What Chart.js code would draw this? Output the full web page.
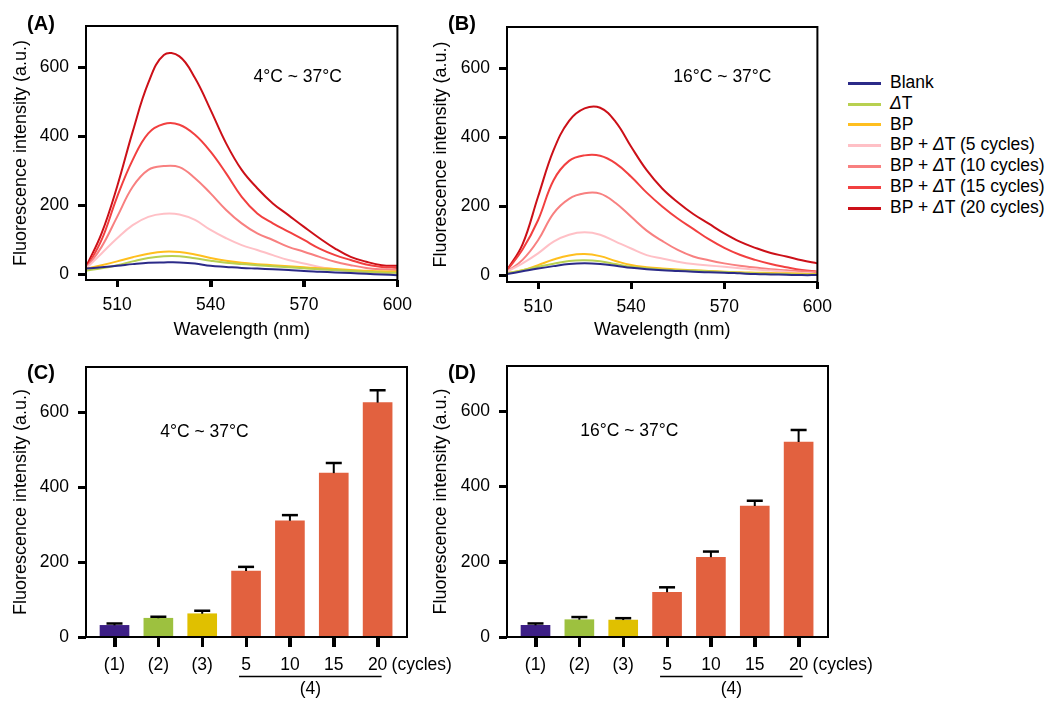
<!DOCTYPE html>
<html>
<head>
<meta charset="utf-8">
<script src="https://cdn.jsdelivr.net/npm/chart.js@4.4.1/dist/chart.umd.min.js"></script>
<style>
  body { margin: 0; background: #fff; width: 1051px; height: 702px; position: relative; overflow: hidden;
         font-family: "Liberation Sans", Arial, Helvetica, sans-serif; color: #000; }
  canvas { position: absolute; }
  #legend { position: absolute; left: 848px; top: 72px; font-size: 17.5px; }
  #legend .row { height: 20.8px; line-height: 20.8px; white-space: nowrap; }
  #legend .swatch { display: inline-block; width: 33px; height: 3px; vertical-align: middle; margin-right: 9px; }
</style>
</head>
<body>
<canvas id="chartA" width="420" height="345" style="left:0;top:0"></canvas>
<canvas id="chartB" width="420" height="345" style="left:420px;top:0"></canvas>
<canvas id="chartC" width="470" height="357" style="left:0;top:345px"></canvas>
<canvas id="chartD" width="480" height="357" style="left:420px;top:345px"></canvas>
<div id="legend"></div>
<script>
// ---- data ----------------------------------------------------------------
const wavelengths = [500, 505, 510, 515, 520, 525, 530, 535, 540, 545, 550,
                     555, 560, 565, 570, 575, 580, 585, 590, 595, 600];
const xTicksNm = [510, 540, 570, 600];
const yTicks = [0, 200, 400, 600];

const seriesNames = ['Blank', 'ΔT', 'BP', 'BP + ΔT (5 cycles)', 'BP + ΔT (10 cycles)',
                     'BP + ΔT (15 cycles)', 'BP + ΔT (20 cycles)'];
const seriesColors = ['#2b2a88', '#b8d050', '#ffbf1f', '#ffc0c6', '#f88080', '#f24040', '#cc1018'];

// (A) 4°C ~ 37°C spectra
const blankA = [17, 21, 25, 30, 34, 35, 35, 32, 25, 22, 19, 17, 15, 13, 10, 8, 6, 4, 2, 0, -2];
const dtA    = [11, 18, 27, 38, 48, 53, 53, 47, 40, 34, 30, 27, 24, 21, 18, 15, 13, 10, 8, 6, 5];
const bpA    = [17, 27, 38, 50, 60, 66, 65, 58, 48, 40, 34, 30, 27, 24, 21, 18, 16, 13, 11, 9, 8];
const c5A    = [17, 61, 105, 143, 167, 176, 174, 158, 129, 105, 85, 71, 56, 42, 32, 22, 15, 9, 6, 4, 3];
const c10A   = [17, 80, 167, 254, 303, 314, 311, 279, 235, 187, 148, 119, 100, 80, 66, 51, 37, 27, 19, 15, 13];
const c15A   = [17, 100, 225, 332, 409, 436, 434, 405, 356, 293, 225, 177, 148, 124, 100, 75, 56, 42, 29, 22, 19];
const c20A   = [22, 119, 255, 414, 555, 636, 632, 569, 477, 380, 303, 250, 206, 172, 138, 105, 75, 51, 37, 27, 25];

// (B) 16°C ~ 37°C spectra
const blankB = [4, 12, 20, 27, 33, 35, 33, 28, 22, 18, 15, 13, 11, 9, 8, 6, 4, 3, 2, 1, 1];
const dtB    = [6, 15, 25, 34, 42, 44, 41, 33, 25, 21, 17, 15, 14, 12, 10, 8, 6, 5, 4, 3, 3];
const bpB    = [6, 15, 30, 46, 58, 62, 56, 42, 30, 24, 20, 17, 15, 13, 11, 9, 8, 7, 6, 5, 4];
const c5B    = [11, 35, 64, 98, 118, 125, 118, 98, 78, 59, 49, 40, 33, 29, 25, 21, 17, 14, 11, 7, 4];
const c10B   = [11, 45, 102, 180, 222, 238, 237, 210, 170, 130, 100, 74, 55, 44, 35, 28, 23, 18, 15, 12, 10];
const c15B   = [15, 75, 160, 276, 332, 348, 347, 325, 286, 240, 200, 165, 135, 105, 80, 60, 45, 33, 24, 16, 11];
const c20B   = [15, 90, 228, 363, 448, 484, 486, 445, 373, 305, 252, 212, 178, 150, 122, 98, 80, 65, 55, 44, 35];

// (C)/(D) bar summaries
const barLabels = ['(1)', '(2)', '(3)', '5', '10', '15', '20'];
const barColors = ['#3d1f86', '#9dc13f', '#e0c000', '#e2613f', '#e2613f', '#e2613f', '#e2613f'];
const barsC = [31, 50, 62, 176, 310, 437, 625];
const errC  = [5, 4, 8, 11, 15, 27, 33];
const barsD = [31, 46, 45, 119, 212, 348, 518];
const errD  = [5, 7, 5, 13, 15, 14, 32];

// ---- shared styling ------------------------------------------------------
const FAMILY = '"Liberation Sans", Arial, Helvetica, sans-serif';
const SIZE = 17.5;
Chart.defaults.font.family = FAMILY;
Chart.defaults.font.size = SIZE;
Chart.defaults.color = '#000';

const FONT = SIZE + 'px ' + FAMILY;

// black frame round the plot area plus outward tick marks
const framePlugin = {
  id: 'frame',
  afterDraw(chart) {
    const { left, top, right, bottom } = chart.chartArea;
    const ctx = chart.ctx;
    const xs = chart.scales.x, ys = chart.scales.y;
    ctx.save();
    ctx.strokeStyle = '#000';
    ctx.lineWidth = 2;
    ctx.strokeRect(left, top, right - left, bottom - top);
    const xLen = xs.options.grid.tickLength || 8, yLen = ys.options.grid.tickLength || 8;
    ctx.lineWidth = 3;
    ctx.beginPath();
    xs.ticks.forEach(t => {
      const px = Math.round(xs.getPixelForValue(t.value)) + 0.5;
      ctx.moveTo(px, bottom);
      ctx.lineTo(px, bottom + xLen);
    });
    ys.ticks.forEach(t => {
      const py = Math.round(ys.getPixelForValue(t.value)) + 0.5;
      ctx.moveTo(left - yLen, py);
      ctx.lineTo(left, py);
    });
    ctx.stroke();
    ctx.restore();
  }
};

// upper error bars for the bar panels
const errorBarPlugin = {
  id: 'errorBars',
  afterDatasetsDraw(chart) {
    const ctx = chart.ctx;
    const yScale = chart.scales.y;
    chart.data.datasets.forEach((ds, i) => {
      if (!ds.errors) return;
      chart.getDatasetMeta(i).data.forEach((bar, j) => {
        const yTop = yScale.getPixelForValue(ds.data[j].y + ds.errors[j]);
        ctx.save();
        ctx.strokeStyle = '#000';
        ctx.lineWidth = 2;
        ctx.beginPath();
        ctx.moveTo(bar.x, bar.y);
        ctx.lineTo(bar.x, yTop);
        ctx.stroke();
        ctx.lineWidth = 2.5;
        ctx.beginPath();
        ctx.moveTo(bar.x - 8, yTop);
        ctx.lineTo(bar.x + 8, yTop);
        ctx.stroke();
        ctx.restore();
      });
    });
  }
};

// panel letter, temperature note, and the "(4)" group marker under the bars
const panelTextPlugin = {
  id: 'panelText',
  afterDraw(chart, args, o) {
    const ctx = chart.ctx;
    const xs = chart.scales.x, ys = chart.scales.y;
    ctx.save();
    ctx.fillStyle = '#000';
    ctx.textBaseline = 'middle';
    ctx.textAlign = 'center';
    ctx.font = 'bold 20px ' + FAMILY;
    ctx.fillText(o.letter, o.letterX, o.letterY);
    ctx.font = FONT;
    ctx.fillText(o.cond, xs.getPixelForValue(o.condX), ys.getPixelForValue(o.condY));
    if (o.group) {
      const axisY = chart.chartArea.bottom;
      const x0 = xs.getPixelForValue(3) - 7;
      const x1 = xs.getPixelForValue(6) + 4;
      ctx.strokeStyle = '#000';
      ctx.lineWidth = 1.5;
      ctx.beginPath();
      ctx.moveTo(x0, axisY + 39.5);
      ctx.lineTo(x1, axisY + 39.5);
      ctx.stroke();
      ctx.fillText('(4)', (x0 + x1) / 2, axisY + 52);
      ctx.textAlign = 'left';
      ctx.fillText('(cycles)', xs.getPixelForValue(6) + 14, axisY + 28.5);
    }
    ctx.restore();
  }
};

function axisBase(tickLen, pad) {
  return {
    offset: false,
    border: { display: true, color: '#000', width: 2 },
    grid: { offset: false, drawOnChartArea: false, drawTicks: true, tickLength: tickLen, tickColor: '#000', tickWidth: 3 },
    ticks: { color: '#000', padding: pad, maxRotation: 0, autoSkip: false, font: { size: SIZE } }
  };
}

function yAxis(min, width) {
  return Object.assign(axisBase(8, 9), {
    min: min, max: 720,
    afterBuildTicks: s => { s.ticks = yTicks.map(v => ({ value: v })); },
    afterFit: s => { s.width = width; },
    title: { display: true, text: 'Fluorescence intensity (a.u.)', color: '#000',
             font: { size: 18 }, padding: { top: 10, bottom: 0 } }
  });
}

// ---- spectra -------------------------------------------------------------
function makeSpectrum(id, series, cfg) {
  const x = Object.assign(axisBase(7, 8), {
    type: 'linear', min: 500, max: 600,
    afterBuildTicks: s => { s.ticks = xTicksNm.map(v => ({ value: v })); },
    afterFit: s => { s.height = cfg.xHeight; },
    title: { display: true, text: 'Wavelength (nm)', color: '#000',
             font: { size: 18 }, padding: { top: 0, bottom: 4 } }
  });
  return new Chart(document.getElementById(id), {
    type: 'line',
    data: {
      datasets: series.map((vals, i) => ({
        label: seriesNames[i],
        data: wavelengths.map((w, j) => ({ x: w, y: vals[j] })),
        borderColor: seriesColors[i],
        borderWidth: 2,
        pointRadius: 0,
        tension: 0.4,
        fill: false
      }))
    },
    options: {
      responsive: false,
      animation: false,
      layout: { padding: cfg.padding },
      plugins: {
        legend: { display: false },
        tooltip: { enabled: false },
        panelText: cfg.text
      },
      scales: { x: x, y: yAxis(cfg.yMin, cfg.yWidth) }
    },
    plugins: [framePlugin, panelTextPlugin]
  });
}

makeSpectrum('chartA', [blankA, dtA, bpA, c5A, c10A, c15A, c20A], {
  padding: { top: 26, right: 17, left: 0, bottom: 0 }, yWidth: 86, xHeight: 65, yMin: -16,
  text: { letter: '(A)', letterX: 41, letterY: 24, cond: '4°C ~ 37°C', condX: 568, condY: 572 }
});
makeSpectrum('chartB', [blankB, dtB, bpB, c5B, c10B, c15B, c20B], {
  padding: { top: 27, right: 16, left: 0, bottom: 0 }, yWidth: 87, xHeight: 63, yMin: -19,
  text: { letter: '(B)', letterX: 42, letterY: 24, cond: '16°C ~ 37°C', condX: 569.4, condY: 575 }
});

// ---- bar panels ----------------------------------------------------------
function makeBars(id, values, errors, cfg) {
  const x = Object.assign(axisBase(10, 8), {
    type: 'linear', min: -0.65, max: 6.67,
    afterBuildTicks: s => { s.ticks = barLabels.map((l, i) => ({ value: i })); },
    afterFit: s => { s.height = 65; }
  });
  x.ticks.callback = v => barLabels[v];
  return new Chart(document.getElementById(id), {
    type: 'bar',
    data: {
      datasets: [{
        data: values.map((v, i) => ({ x: i, y: v })),
        errors: errors,
        backgroundColor: barColors,
        borderWidth: 0,
        barThickness: 29
      }]
    },
    options: {
      responsive: false,
      animation: false,
      layout: { padding: cfg.padding },
      plugins: {
        legend: { display: false },
        tooltip: { enabled: false },
        panelText: cfg.text
      },
      scales: { x: x, y: yAxis(0, cfg.yWidth) }
    },
    plugins: [framePlugin, errorBarPlugin, panelTextPlugin]
  });
}

makeBars('chartC', barsC, errC, {
  padding: { top: 22, right: 63, left: 0, bottom: 0 }, yWidth: 86,
  text: { letter: '(C)', letterX: 41, letterY: 28, cond: '4°C ~ 37°C', condX: 2.05, condY: 547, group: true }
});
makeBars('chartD', barsD, errD, {
  padding: { top: 21, right: 72, left: 0, bottom: 0 }, yWidth: 87,
  text: { letter: '(D)', letterX: 42, letterY: 28, cond: '16°C ~ 37°C', condX: 2.14, condY: 547, group: true }
});

// ---- legend (shared by the spectra) --------------------------------------
const legend = document.getElementById('legend');
seriesNames.forEach((name, i) => {
  const row = document.createElement('div');
  row.className = 'row';
  const sw = document.createElement('span');
  sw.className = 'swatch';
  sw.style.background = seriesColors[i];
  row.appendChild(sw);
  const parts = name.split('Δ');
  row.appendChild(document.createTextNode(parts[0]));
  if (parts.length > 1) {
    const d = document.createElement('i');
    d.textContent = 'Δ';
    row.appendChild(d);
    row.appendChild(document.createTextNode(parts[1]));
  }
  legend.appendChild(row);
});
</script>
</body>
</html>
